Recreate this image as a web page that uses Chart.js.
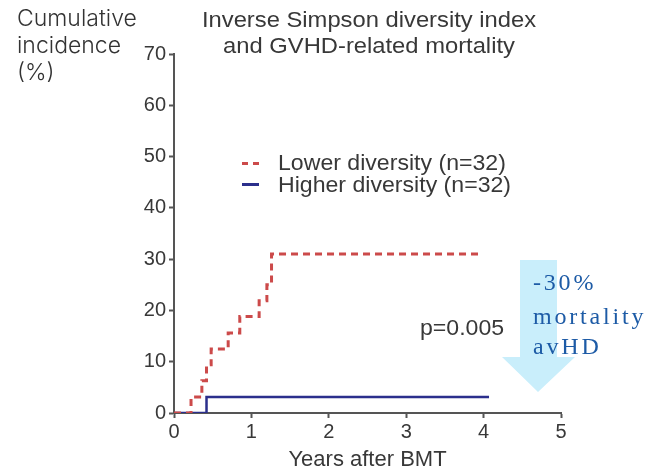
<!DOCTYPE html>
<html>
<head>
<meta charset="utf-8">
<script src="https://cdn.jsdelivr.net/npm/chart.js@4/dist/chart.umd.min.js"></script>
<style>
  html, body { margin:0; padding:0; background:#fff; }
  #wrap { position:relative; width:651px; height:472px; overflow:hidden; }
  canvas { position:absolute; left:0; top:0; }
  .t { position:absolute; white-space:nowrap; color:#383838; font-family:"Liberation Sans", Arial, sans-serif; }
  .title { font-size:22px; left:369px; transform:translate(-50%,-50%) scaleX(1.08); line-height:1; }
  .ylab { left:17px; top:5px; font-family:Inter, sans-serif; font-size:23px; line-height:27px; color:#333; font-weight:300; }
  .leg { font-size:22px; left:278px; transform:translateY(-50%) scaleX(1.05); transform-origin:left center; line-height:1; }
  .sw { position:absolute; left:242px; width:17px; height:0; }
  .note { position:absolute; left:533px; font-family:"Liberation Serif", "Times New Roman", serif; font-size:24px; letter-spacing:2.8px; color:#1d5ba6; line-height:1; white-space:nowrap; }
</style>
</head>
<body>
<div id="wrap">
  <svg width="651" height="472" style="position:absolute;left:0;top:0">
    <polygon points="520,260 557,260 557,357 575,357 538,392 502,357 520,357" fill="#c9eefb"/>
  </svg>
  <canvas id="c" width="651" height="472"></canvas>
  <div class="t title" style="top:20px">Inverse Simpson diversity index</div>
  <div class="t title" style="top:46px">and GVHD-related mortality</div>
  <div class="t ylab">Cumulative<br>incidence<br>(%)</div>
  <div class="sw" style="top:162px;border-top:3px dashed #cc4a4a;"></div>
  <div class="sw" style="top:183px;border-top:3px solid #2b2f8c;"></div>
  <div class="t leg" style="top:163px">Lower diversity (n=32)</div>
  <div class="t leg" style="top:185px">Higher diversity (n=32)</div>
  <div class="t" style="left:420px;top:317px;font-size:22px;line-height:1;transform:scaleX(1.05);transform-origin:left top">p=0.005</div>
  <div class="note" style="top:270px">-30%</div>
  <div class="note" style="top:304px">mortality</div>
  <div class="note" style="top:334px">avHD</div>
</div>
<script>
const lowerX = [0, 0.22, 0.36, 0.42, 0.48, 0.70, 0.85, 1.10, 1.20, 1.26, 3.93];
const lowerY = [0, 3.1, 6.3, 9.4, 12.5, 15.6, 18.8, 21.9, 25.0, 31.0, 31.0];
const higherX = [0, 0.42, 4.07];
const higherY = [0, 3.1, 3.1];
const xTicks = [0, 1, 2, 3, 4, 5];
const yTicks = [0, 10, 20, 30, 40, 50, 60, 70];

const toPts = (xs, ys) => xs.map((x, i) => ({ x: x, y: ys[i] }));

new Chart(document.getElementById('c'), {
  type: 'line',
  data: {
    datasets: [
      { label: 'Lower diversity (n=32)', data: toPts(lowerX, lowerY), stepped: true,
        borderColor: '#cc4a4a', borderWidth: 3, borderDash: [7, 5], pointRadius: 0, fill: false },
      { label: 'Higher diversity (n=32)', data: toPts(higherX, higherY), stepped: true,
        borderColor: '#2b2f8c', borderWidth: 2.5, pointRadius: 0, fill: false }
    ]
  },
  options: {
    responsive: false,
    animation: false,
    layout: { padding: { left: 0, top: 54, right: 90, bottom: 0 } },
    plugins: { legend: { display: false }, tooltip: { enabled: false }, title: { display: false } },
    scales: {
      x: {
        type: 'linear', min: 0, max: 5,
        afterFit: s => { s.height = 59; },
        afterBuildTicks: s => { s.ticks = xTicks.map(v => ({ value: v })); },
        ticks: { color: '#383838', font: { family: 'Liberation Sans', size: 20 }, padding: 2 },
        grid: { drawOnChartArea: false, drawTicks: true, tickLength: 5, color: '#555', tickWidth: 2 },
        border: { color: '#555', width: 2 },
        title: { display: true, text: 'Years after BMT', color: '#383838',
                 font: { family: 'Liberation Sans', size: 22, lineHeight: 1.0 }, padding: { top: 0, bottom: 1 } }
      },
      y: {
        type: 'linear', min: 0, max: 70,
        afterFit: s => { s.width = 174; },
        afterBuildTicks: s => { s.ticks = yTicks.map(v => ({ value: v })); },
        ticks: { color: '#383838', font: { family: 'Liberation Sans', size: 20 }, padding: 3 },
        grid: { drawOnChartArea: false, drawTicks: true, tickLength: 5, color: '#555', tickWidth: 2 },
        border: { color: '#555', width: 2 }
      }
    }
  }
});
</script>
</body>
</html>
